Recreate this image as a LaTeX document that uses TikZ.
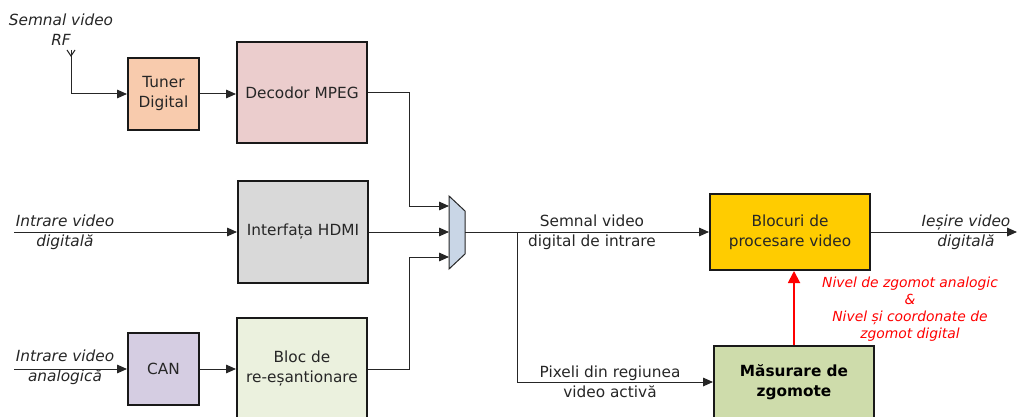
\documentclass[tikz,border=0pt]{standalone}
\usepackage{fontspec}
\setmainfont{DejaVu Sans}
\usetikzlibrary{arrows.meta}
\definecolor{cTun}{HTML}{F8CBAD}
\definecolor{cDec}{HTML}{EBCDCD}
\definecolor{cHdmi}{HTML}{D9D9D9}
\definecolor{cCan}{HTML}{D5CDE2}
\definecolor{cBloc}{HTML}{EBF1DE}
\definecolor{cProc}{HTML}{FFCC00}
\definecolor{cMeas}{HTML}{CEDCAB}
\definecolor{cMux}{HTML}{C9D6E6}
\definecolor{cLine}{HTML}{262626}
\begin{document}
\begin{tikzpicture}[x=0.75pt,y=-0.75pt,
  blk/.style={draw=black!90, line width=1.5pt, inner sep=0pt, align=center,
    font=\fontsize{11.5}{15}\selectfont, text=black!85},
  arr/.style={-{Triangle[length=7.5pt,width=6.5pt]}, line width=0.75pt, draw=cLine},
  lbl/.style={align=center, inner sep=0pt, font=\fontsize{11.5}{15}\selectfont\itshape, text=black!85},
  plbl/.style={align=center, inner sep=0pt, font=\fontsize{11.5}{15}\selectfont, text=black!85},
  rlbl/.style={align=center, inner sep=0pt, font=\fontsize{10.4}{12.75}\selectfont\itshape, text=red}]
\useasboundingbox (0,0) rectangle (1017,417);

% blocks
\node[blk, fill=cTun, minimum width=53.25pt, minimum height=54pt] (tun) at (163.5,94) {Tuner\\Digital};
\node[blk, fill=cDec, minimum width=97.5pt, minimum height=75.75pt] (dec) at (302,92.5) {Decodor MPEG};
\node[blk, fill=cHdmi, minimum width=97.5pt, minimum height=76.5pt] (hdmi) at (303,232) {Interfața HDMI};
\node[blk, fill=cCan, minimum width=53.25pt, minimum height=54pt] (can) at (163.5,369) {CAN};
\node[blk, fill=cBloc, minimum width=97.5pt, minimum height=76.5pt] (bloc) at (302,369) {Bloc de\\re-eșantionare};
\node[blk, fill=cProc, minimum width=120pt, minimum height=57pt] (proc) at (790,232) {Blocuri de\\procesare video};
\node[blk, fill=cMeas, minimum width=120pt, minimum height=54pt, font=\fontsize{11.5}{15}\selectfont\bfseries, text=black] (meas) at (794,382) {Măsurare de\\zgomote};

% multiplexer
\draw[fill=cMux, draw=cLine, line width=0.75pt] (449,196) -- (465,211) -- (465,254) -- (449,269) -- cycle;
\coordinate (m1) at (449,206);
\coordinate (m2) at (449,232);
\coordinate (m3) at (449,257);
\coordinate (mo) at (465,232);

% antenna
\coordinate (ant) at (71,50);
\coordinate (antj) at (71,56);
\draw[cLine, line width=0.75pt] (67,50) -- (antj) -- (75,50);

% inputs / outputs
\coordinate (hdmiIn) at (14,232);
\coordinate (canIn) at (14,369);
\coordinate (br) at (517,232);
\coordinate (out) at (1017,232);

% connectors
\draw[arr] (ant) |- (tun.west);
\draw[arr] (tun.east) -- (tun.east -| dec.west);
\draw[arr] (dec.east) -- ++(41,0) |- (m1);
\draw[arr] (hdmiIn) -- (hdmi.west);
\draw[arr] (hdmi.east) -- (m2);
\draw[arr] (canIn) -- (can.west);
\draw[arr] (can.east) -- (bloc.west);
\draw[arr] (bloc.east) -- ++(41,0) |- (m3);
\draw[arr] (mo) -- (proc.west);
\draw[arr] (br) |- (meas.west);
\draw[arr] (proc.east) -- (out);
\draw[-{Triangle[length=9pt,width=9pt]}, line width=1.4pt, draw=red, fill=red] (meas.north) -- (meas.north |- proc.south);

% labels
\node[lbl] (lrf) at (61,30) {Semnal video\\RF};
\node[lbl] (ldig) at (65,232) {Intrare video\\digitală};
\node[lbl] (lan) at (65,367.5) {Intrare video\\analogică};
\node[plbl] (lsem) at (592,232) {Semnal video\\digital de intrare};
\node[plbl] (lpix) at (610,382) {Pixeli din regiunea\\video activă};
\node[lbl] (lout) at (966,232) {Ieșire video\\digitală};
\node[rlbl] (lred) at (910,309) {Nivel de zgomot analogic\\\&\\Nivel și coordonate de\\zgomot digital};
\end{tikzpicture}
\end{document}
